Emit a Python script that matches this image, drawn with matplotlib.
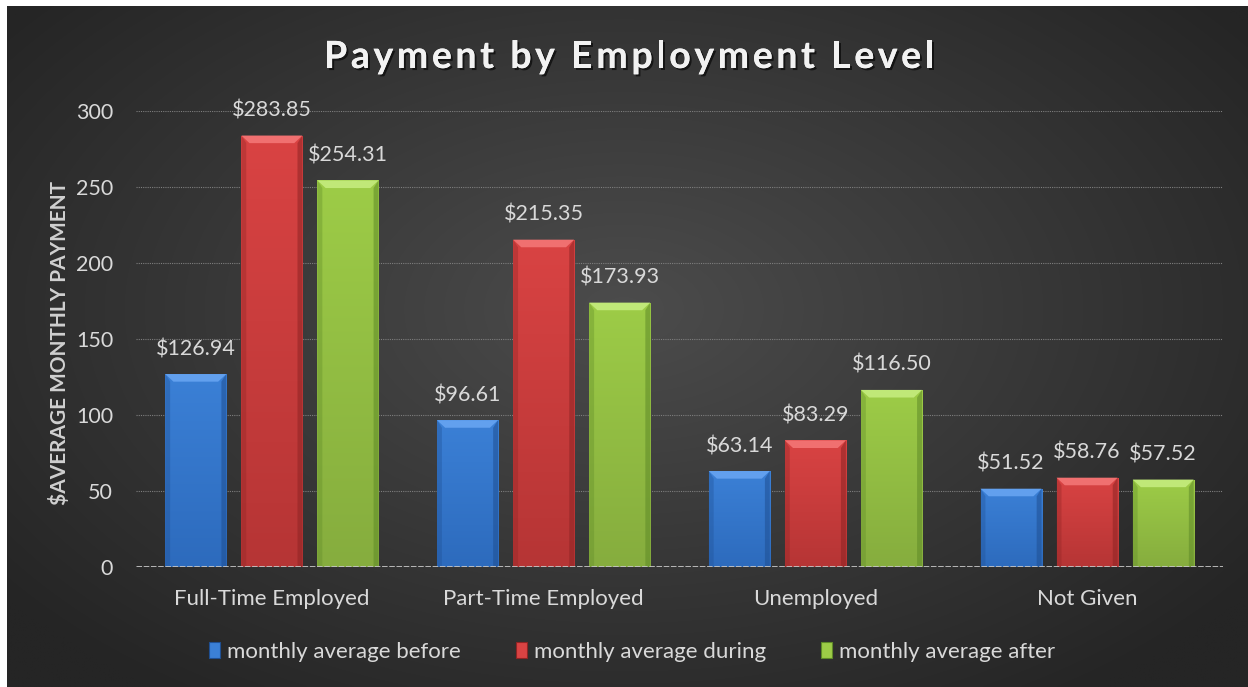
import numpy as np
import matplotlib
matplotlib.use("Agg")
import matplotlib.pyplot as plt
from matplotlib.patches import Polygon, Patch, Rectangle
import matplotlib.patheffects as pe
from matplotlib.colors import to_rgb

# ---- data ----
categories = ["Full-Time Employed", "Part-Time Employed", "Unemployed", "Not Given"]
series_names = ["monthly average before", "monthly average during", "monthly average after"]
before = [126.94, 96.61, 63.14, 51.52]
during = [283.85, 215.35, 83.29, 58.76]
after = [254.31, 173.93, 116.50, 57.52]
yticks = [0, 50, 100, 150, 200, 250, 300]
title = "Payment by Employment Level"
ylabel = "$AVERAGE MONTHLY PAYMENT"

series = [before, during, after]
top_c = ["#3b80d6", "#d94343", "#9dcc47"]
bot_c = ["#2d6bbd", "#b63535", "#86ad3e"]
light = ["#62a0ee", "#f07070", "#c0e878"]
dark = ["#1f4f92", "#8e2424", "#5f8a28"]

FONT = ["Lato", "DejaVu Sans"]
plt.rcParams["font.family"] = FONT
txt = "#d9d9d9"

W, H = 1248, 687
fig = plt.figure(figsize=(W / 100, H / 100), dpi=100)
fig.patch.set_facecolor("#2b2b2b")

# background panel with radial gradient
bg = fig.add_axes([0, 0, 1, 1], zorder=-10)
gx = np.linspace(-1, 1, 600)
gy = np.linspace(-1, 1, 340)
X, Y = np.meshgrid(gx, gy)
R = np.sqrt((X / 1.0) ** 2 + ((Y + 0.1) / 1.1) ** 2)
R = np.clip(R / 1.25, 0, 1)
c_in = np.array([0x4c, 0x4c, 0x4c]) / 255
c_out = np.array([0x25, 0x25, 0x25]) / 255
img = c_in[None, None, :] * (1 - R[..., None]) + c_out[None, None, :] * R[..., None]
bg.imshow(img, aspect="auto", extent=[0, 1, 0, 1], interpolation="bilinear")
bg.set_xlim(0, 1)
bg.set_ylim(0, 1)
bg.add_patch(Rectangle((0, 0), 7 / W, 1, color="white", lw=0, zorder=5))
bg.add_patch(Rectangle((0, 1 - 6 / H), 1, 6 / H, color="white", lw=0, zorder=5))
bg.set_axis_off()

ax = fig.add_axes([136 / W, 120 / H, (1223 - 136) / W, (567 - 111) / H])
ax.patch.set_alpha(0)

x = np.arange(len(categories))
bw = 0.2245
step = 0.28
offsets = [-step, 0, step]

bev_h = 5.0   # data units
bev_d = 0.03  # x data units
vgrad = np.linspace(0, 1, 64)[:, None]
for si, (vals, off) in enumerate(zip(series, offsets)):
    xs = x + off
    bars = ax.bar(xs, vals, width=bw, color=bot_c[si], zorder=3, linewidth=0)
    ct, cb = np.array(to_rgb(top_c[si])), np.array(to_rgb(bot_c[si]))
    for b, xc, v in zip(bars, xs, vals):
        x0, x1 = xc - bw / 2, xc + bw / 2
        g = cb[None, None, :] * (1 - vgrad[..., None]) + ct[None, None, :] * vgrad[..., None]
        g = np.repeat(g, 2, axis=1)
        im = ax.imshow(g, extent=[x0, x1, 0, v], origin="lower", aspect="auto",
                       zorder=3.5, interpolation="bilinear")
        im.set_clip_path(b)
        # side strips
        ax.add_patch(Polygon([[x0, 0], [x0 + bev_d * 0.6, 0], [x0 + bev_d * 0.6, v - bev_h], [x0, v]],
                             closed=True, color=dark[si], alpha=0.35, zorder=4, lw=0))
        ax.add_patch(Polygon([[x1, 0], [x1 - bev_d * 0.6, 0], [x1 - bev_d * 0.6, v - bev_h], [x1, v]],
                             closed=True, color=dark[si], alpha=0.55, zorder=4, lw=0))
        # top bevel
        ax.add_patch(Polygon([[x0, v], [x1, v], [x1 - bev_d, v - bev_h], [x0 + bev_d, v - bev_h]],
                             closed=True, color=light[si], zorder=4, lw=0))
        ax.annotate(f"${v:,.2f}", (xc, v), xytext=(0, 18), textcoords="offset points",
                    ha="center", va="center", color=txt, fontsize=15.5, zorder=5)

ax.set_xlim(-0.5, len(categories) - 0.5)
ax.set_ylim(0, 300)

# grid
for yv in yticks[1:]:
    ax.axhline(yv, color="#7e7e7e", lw=0.8, ls=(0, (1, 1)), zorder=1)
ax.axhline(0, color="#c4c4c4", lw=2.0, ls=(0, (2, 0.6)), zorder=5)

ax.set_yticks(yticks)
ax.set_yticklabels([str(t) for t in yticks], fontsize=15.5, color=txt)
ax.set_xticks(x)
ax.set_xticklabels(categories, fontsize=16, color=txt)
ax.tick_params(axis="both", length=0)
ax.tick_params(axis="y", pad=16.5)
ax.tick_params(axis="x", pad=16)
for s in ax.spines.values():
    s.set_visible(False)

fig.text(60 / W, 1 - 343 / H, ylabel, rotation=90, ha="center", va="center",
         fontsize=15, fontweight="bold", color="#d0d0d0")

# legend
handles = [Patch(facecolor=top_c[i], edgecolor=dark[i], linewidth=0.8) for i in range(3)]
leg = fig.legend(handles, series_names, loc="center", bbox_to_anchor=(632 / W, 1 - 652 / H),
                 ncol=3, frameon=False, fontsize=16, handlelength=0.5, handleheight=0.7,
                 handletextpad=0.3, columnspacing=2.5, labelcolor=txt)

# title with letter spacing
renderer = fig.canvas.get_renderer()
tprops = dict(fontsize=27, fontweight="bold", color="#f2f2f2")
spacing = 3.6
def w_of(s):
    t = fig.text(0, 0, s, **tprops)
    w = t.get_window_extent(renderer).width
    t.remove()
    return w
widths = []
for ch in title:
    if ch == " ":
        widths.append(w_of("a a") - w_of("aa"))
    else:
        widths.append(w_of(ch))
total = sum(widths) + spacing * (len(title) - 1)
cx, cy = 629, 687 - 57
xpos = cx - total / 2
shadow = [pe.withSimplePatchShadow(offset=(1.5, -1.5), shadow_rgbFace="black", alpha=0.6), pe.Normal()]
for ch, w in zip(title, widths):
    if ch != " ":
        fig.text(xpos / W, cy / H, ch, ha="left", va="center", path_effects=shadow, **tprops)
    xpos += w + spacing

fig.savefig("out.png", dpi=100, facecolor=fig.get_facecolor())
